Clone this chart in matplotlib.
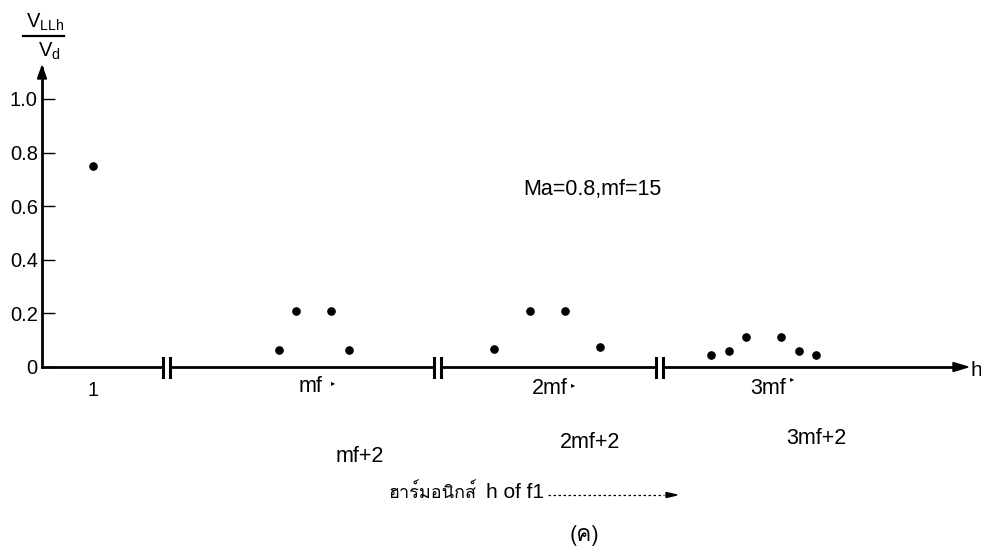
import matplotlib
matplotlib.use("Agg")
import matplotlib.pyplot as plt
import matplotlib.font_manager as fm
from matplotlib.ft2font import FT2Font
from matplotlib.patches import Polygon
from matplotlib.lines import Line2D

# ---------------- data ----------------
h_fund = [1]
v_fund = [0.75]
h_mf = [13, 14, 16, 17]
v_mf = [0.063, 0.21, 0.21, 0.063]
h_2mf = [27, 29, 31, 33]
v_2mf = [0.067, 0.21, 0.21, 0.074]
h_3mf = [42, 43, 44, 46, 47, 48]
v_3mf = [0.046, 0.06, 0.113, 0.113, 0.06, 0.046]

y_ticks = [0, 0.2, 0.4, 0.6, 0.8, 1.0]
y_ticklabels = ["0", "0.2", "0.4", "0.6", "0.8", "1.0"]
annotation = "Ma=0.8,mf=15"

# ---------------- fonts ----------------
BASE = "Liberation Sans"
thai_family = None
for f in fm.fontManager.ttflist:
    try:
        if 0x0E2E in FT2Font(f.fname).get_charmap():
            thai_family = f.name
            break
    except Exception:
        pass
thai_fam = [thai_family, BASE] if thai_family else [BASE]
plt.rcParams["font.family"] = [BASE, "DejaVu Sans"]
plt.rcParams["mathtext.fontset"] = "custom"
plt.rcParams["mathtext.rm"] = BASE

W, H = 981, 550
fig = plt.figure(figsize=(W / 100, H / 100), dpi=100)


def fx(px):
    return px / W


def fy(py):
    return 1 - py / H


# ---------------- layout of the broken x axis ----------------
Y0, YTOP = 367, 68           # pixel rows of value 0 and top of the y axis
PX_PER_UNIT_Y = 268          # pixels per 1.0 on y
UNIT = 17.5                  # pixels per harmonic order
segments = [  # (left px, right px, anchor harmonic, anchor px)
    (42, 163, 1, 93),
    (170, 434, 15, 313.5),
    (441, 656, 30, 547),
    (663, 958, 45, 763.5),
]
groups = [(h_fund, v_fund), (h_mf, v_mf), (h_2mf, v_2mf), (h_3mf, v_3mf)]

LW = 2.0
axes = []
for i, ((l, r, ah, ap), (hs, vs)) in enumerate(zip(segments, groups)):
    ax = fig.add_axes([fx(l), fy(Y0), (r - l) / W, (Y0 - YTOP) / H])
    ax.set_xlim(ah - (ap - l) / UNIT, ah + (r - ap) / UNIT)
    ax.set_ylim(0, (Y0 - YTOP) / PX_PER_UNIT_Y)
    ax.patch.set_alpha(0)
    for s in ("top", "right"):
        ax.spines[s].set_visible(False)
    ax.spines["bottom"].set_linewidth(LW)
    ax.set_xticks([])
    if i == 0:
        ax.spines["left"].set_linewidth(LW)
        ax.set_yticks(y_ticks)
        ax.set_yticklabels(y_ticklabels, fontsize=14.5)
        ax.tick_params(axis="y", direction="in", length=9, width=1, pad=3)
    else:
        ax.spines["left"].set_visible(False)
        ax.set_yticks([])
    ax.plot(hs, vs, "o", color="black", ms=5.2, clip_on=False)
    axes.append(ax)

# break marks (double bars)
for px in (163, 170, 434, 441, 656, 663):
    fig.add_artist(Line2D([fx(px), fx(px)], [fy(Y0 - 9.5), fy(Y0 + 9.5)],
                          color="black", lw=2.2, transform=fig.transFigure))

# arrow heads
fig.add_artist(Polygon([[fx(42), fy(66)], [fx(37.5), fy(79)], [fx(46.5), fy(79)]],
                       closed=True, color="black", transform=fig.transFigure))
fig.add_artist(Polygon([[fx(968), fy(Y0)], [fx(953), fy(Y0 - 4.5)], [fx(953), fy(Y0 + 4.5)]],
                       closed=True, color="black", transform=fig.transFigure))
fig.text(fx(976), fy(370), "h", fontsize=15, ha="center", va="center")

# y label as fraction
fig.text(fx(45), fy(22), r"$\mathregular{V_{LLh}}$", fontsize=14.5, ha="center", va="center")
fig.add_artist(Line2D([fx(23), fx(64)], [fy(36), fy(36)], color="black", lw=1.6,
                      transform=fig.transFigure))
fig.text(fx(49), fy(51), r"$\mathregular{V_d}$", fontsize=14.5, ha="center", va="center")

# annotation
fig.text(fx(592), fy(189), annotation, fontsize=15.5, ha="center", va="center")

# harmonic labels
fig.text(fx(93), fy(390), "1", fontsize=14.5, ha="center", va="center")
fig.text(fx(310), fy(387), "mf", fontsize=15.5, ha="center", va="center")
fig.text(fx(550), fy(388), "2mf", fontsize=15.5, ha="center", va="center")
fig.text(fx(768), fy(388), "3mf", fontsize=15.5, ha="center", va="center")
for (mx, my) in ((333, 383), (573, 385), (792, 379)):
    fig.text(fx(mx), fy(my), "\u25b8", fontsize=6, ha="center", va="center",
             family=["DejaVu Sans"])
fig.text(fx(360), fy(456), "mf+2", fontsize=15.5, ha="center", va="center")
fig.text(fx(590), fy(443), "2mf+2", fontsize=15.5, ha="center", va="center")
fig.text(fx(816), fy(438), "3mf+2", fontsize=15.5, ha="center", va="center")

# axis caption
fig.text(fx(388), fy(493), "ฮาร์มอนิกส์", fontsize=13, ha="left", va="center",
         family=thai_fam)
fig.text(fx(486), fy(493), "h of f1", fontsize=15, ha="left", va="center")
fig.add_artist(Line2D([fx(548), fx(664)], [fy(495), fy(495)], color="black", lw=0.9,
                      ls=(0, (2, 2)), transform=fig.transFigure))
fig.add_artist(Polygon([[fx(677), fy(495)], [fx(666), fy(492.5)], [fx(666), fy(497.5)]],
                       closed=True, color="black", transform=fig.transFigure))
fig.text(fx(584), fy(536), "(ค)", fontsize=16, ha="center", va="center", family=thai_fam)

fig.savefig("out.png", dpi=100)
